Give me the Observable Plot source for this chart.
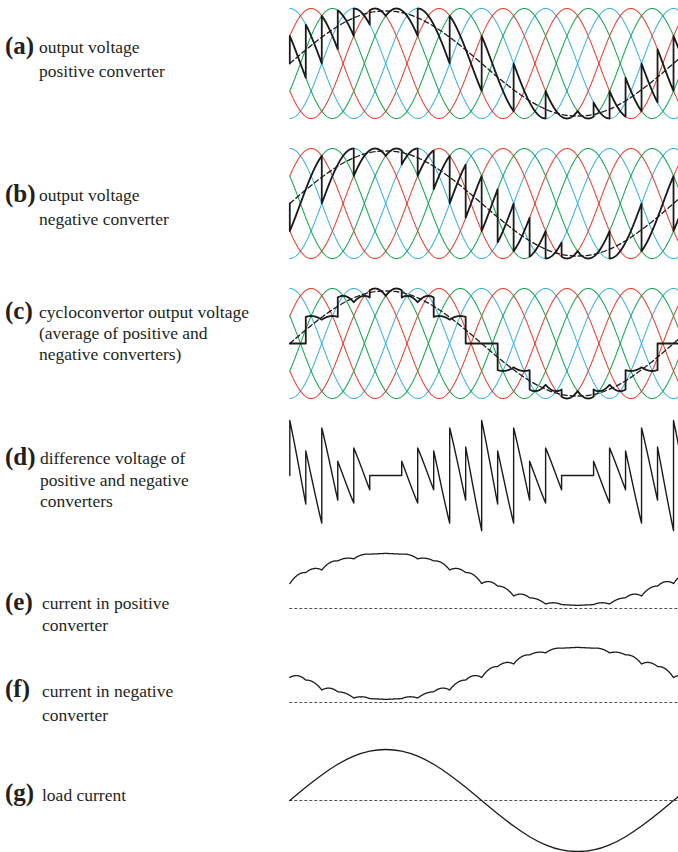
<!DOCTYPE html>
<html>
<head>
<meta charset="utf-8">
<script src="https://cdn.jsdelivr.net/npm/d3@7"></script>
<script src="https://cdn.jsdelivr.net/npm/@observablehq/plot@0.6"></script>
<style>
  body { margin: 0; background: #fff; }
  #root { position: relative; width: 678px; height: 852px; overflow: hidden; background: #fff; }
  #root svg { position: absolute; left: 0; background: none; }
  #labels text { font-family: "Liberation Serif", "DejaVu Serif", serif; fill: #231f20; }
</style>
</head>
<body>
<div id="root"></div>
<script>
// ---------------- data ----------------
// time axis in supply degrees: 0 .. 1094 across the plotted width
const timeDomain = [0, 1094];

// six supply waves (3 colours, each with its inverse): angle of each peak
const supplyPeaks = [0, 60, 120, 180, 240, 300];
const supplyColors = ["#3db2e4", "#e8412f", "#17a653", "#3db2e4", "#e8412f", "#17a653"];

// positive converter: [switch-on angle, switch-off angle, supply wave followed]
const positiveSegments = [
  [0, 45, 5], [45, 90, 0], [90, 135, 1], [135, 180, 2], [180, 225, 3], [225, 270, 4],
  [270, 360, 5], [360, 450, 0], [450, 540, 1], [540, 630, 2], [630, 720, 3], [720, 810, 4],
  [810, 855, 5], [855, 900, 0], [900, 945, 1], [945, 990, 2], [990, 1035, 3], [1035, 1080, 4],
  [1080, 1094, 5]
];
// negative converter: [switch-on angle, switch-off angle, supply wave followed]
const negativeSegments = [
  [0, 90, 2], [90, 180, 3], [180, 270, 4], [270, 315, 5], [315, 360, 0], [360, 405, 1],
  [405, 450, 2], [450, 495, 3], [495, 540, 4], [540, 585, 5], [585, 630, 0], [630, 675, 1],
  [675, 720, 2], [720, 765, 3], [765, 810, 4], [810, 900, 5], [900, 990, 0], [990, 1080, 1],
  [1080, 1094, 2]
];

// load current read every 45 supply degrees (0 .. 1125), peak = 1
const loadStep = 45;
const loadCurrent = [0, 0.26, 0.5, 0.71, 0.87, 0.97, 1, 0.97, 0.87, 0.71, 0.5, 0.26,
  0, -0.26, -0.5, -0.71, -0.87, -0.97, -1, -0.97, -0.87, -0.71, -0.5, -0.26, 0, 0.26];

// dashed mean output voltage relative to supply peak
const meanVoltageRatio = 0.955;
// converter currents: standing circulating level, share of load, ripple gain
const circulatingLevel = 0.48;
const loadShare = 0.5;
const rippleGain = 0.4;

// labels
const labelTags = ["(a)", "(b)", "(c)", "(d)", "(e)", "(f)", "(g)"];
const labelLines = [
  ["output voltage", "positive converter"],
  ["output voltage", "negative converter"],
  ["cycloconvertor output voltage", "(average of positive and", "negative converters)"],
  ["difference voltage of", "positive and negative", "converters"],
  ["current in positive", "converter"],
  ["current in negative", "converter"],
  ["load current"]
];

// ---------------- layout (positions / styles) ----------------
const labelLayout = [
  {tagY: 54, textX: 39, ys: [53, 77]},
  {tagY: 202, textX: 39, ys: [201, 225]},
  {tagY: 319, textX: 39, ys: [318, 339, 360]},
  {tagY: 465, textX: 40, ys: [464, 486, 507]},
  {tagY: 610, textX: 42, ys: [609, 631]},
  {tagY: 697, textX: 42, ys: [697, 721]},
  {tagY: 801, textX: 42, ys: [801]}
];

// ---------------- derived tables ----------------
const rad = Math.PI / 180;
const supply = (k, t) => Math.cos((t - supplyPeaks[k]) * rad);

const supplyCurves = supplyPeaks.map((_, k) =>
  d3.range(timeDomain[0], timeDomain[1] + 1, 1).map(t => ({t, v: supply(k, t)})));

function waveform(segs) {
  const pts = [{t: 0, v: 0}];
  for (const [a, b, k] of segs) for (let t = a; t <= b; t++) pts.push({t, v: supply(k, t)});
  return pts;
}
const positiveWave = waveform(positiveSegments);
const negativeWave = waveform(negativeSegments);

const breaks = Array.from(new Set([...positiveSegments, ...negativeSegments].flatMap(s => [s[0], s[1]])))
  .sort((a, b) => a - b);
const combo = [{t: 0, vP: 0, vN: 0}];
for (let i = 0; i < breaks.length - 1; i++) {
  const a = breaks[i], b = breaks[i + 1];
  const sp = positiveSegments.find(s => s[0] <= a && s[1] >= b);
  const sn = negativeSegments.find(s => s[0] <= a && s[1] >= b);
  for (let t = a; t <= b; t++) combo.push({t, vP: supply(sp[2], t), vN: supply(sn[2], t)});
}

const loadSamples = loadCurrent.map((v, i) => ({t: i * loadStep, v}));
const meanVoltage = loadSamples.map(d => ({t: d.t, v: d.v * meanVoltageRatio}));
const loadAt = t => {
  const i = Math.min(Math.floor(t / loadStep), loadCurrent.length - 2);
  const f = t / loadStep - i;
  return loadCurrent[i] * (1 - f) + loadCurrent[i + 1] * f;
};

let ic = 0;
const currents = combo.map((p, i) => {
  if (i > 0) {
    const q = combo[i - 1];
    ic += rippleGain * 0.5 * ((p.vP - p.vN) + (q.vP - q.vN)) * (p.t - q.t) * rad;
  }
  const L = loadAt(p.t);
  let iP = circulatingLevel + loadShare * L + ic;
  let iN = circulatingLevel - loadShare * L + ic;
  const m = Math.min(iP, iN);
  if (m < 0) { ic -= m; iP -= m; iN -= m; }
  return {t: p.t, iP, iN};
});

// ---------------- drawing ----------------
const root = document.getElementById("root");
const INK = "#1b1b1b";

function panel(top, height, yScale, marks) {
  const svg = Plot.plot({
    width: 678, height,
    marginLeft: 289.3, marginRight: 0, marginTop: 0, marginBottom: 0,
    x: {domain: timeDomain, axis: null},
    y: {...yScale, axis: null},
    marks
  });
  svg.style.top = top + "px";
  root.append(svg);
}

const supplyMarks = () => supplyCurves.map((c, k) =>
  Plot.line(c, {x: "t", y: "v", stroke: supplyColors[k], strokeWidth: 1.05}));
const dashedMean = () => Plot.line(meanVoltage, {x: "t", y: "v", curve: "natural",
  stroke: INK, strokeWidth: 1.3, strokeDasharray: "5,3"});
const voltY = {domain: [-1, 1], range: [118, 8]};

// (a)
panel(0, 126, voltY, [
  ...supplyMarks(),
  dashedMean(),
  Plot.line(positiveWave, {x: "t", y: "v", stroke: INK, strokeWidth: 1.8})
]);
// (b)
panel(140, 126, voltY, [
  ...supplyMarks(),
  dashedMean(),
  Plot.line(negativeWave, {x: "t", y: "v", stroke: INK, strokeWidth: 1.8})
]);
// (c)
panel(280, 126, voltY, [
  ...supplyMarks(),
  Plot.line(combo, {x: "t", y: d => (d.vP + d.vN) / 2, stroke: INK, strokeWidth: 1.8}),
  dashedMean()
]);
// (d)
panel(412, 126, voltY, [
  Plot.line(combo, {x: "t", y: d => d.vP - d.vN, stroke: INK, strokeWidth: 1.4})
]);
// (e)
panel(540, 72, {domain: [0, 1], range: [68, 16]}, [
  Plot.ruleY([0], {stroke: "#555", strokeWidth: 1, strokeDasharray: "3,2"}),
  Plot.line(currents, {x: "t", y: "iP", stroke: INK, strokeWidth: 1.3})
]);
// (f)
panel(634, 72, {domain: [0, 1], range: [68, 16]}, [
  Plot.ruleY([0], {stroke: "#555", strokeWidth: 1, strokeDasharray: "3,2"}),
  Plot.line(currents, {x: "t", y: "iN", stroke: INK, strokeWidth: 1.3})
]);
// (g)
panel(732, 120, {domain: [-1, 1], range: [119, 17]}, [
  Plot.ruleY([0], {stroke: "#555", strokeWidth: 1, strokeDasharray: "3,2"}),
  Plot.line(loadSamples, {x: "t", y: "v", curve: "natural", stroke: INK, strokeWidth: 1.3})
]);

// labels (real text) on an overlay
const NS = "http://www.w3.org/2000/svg";
const lab = document.createElementNS(NS, "svg");
lab.setAttribute("id", "labels");
lab.setAttribute("width", 285); lab.setAttribute("height", 852);
lab.style.top = "0px";
labelTags.forEach((tag, i) => {
  const L = labelLayout[i];
  const t = document.createElementNS(NS, "text");
  t.setAttribute("x", 5); t.setAttribute("y", L.tagY);
  t.setAttribute("font-family", "Liberation Serif, DejaVu Serif, serif");
  t.setAttribute("font-size", 25); t.setAttribute("font-weight", "bold");
  t.textContent = tag; lab.append(t);
  labelLines[i].forEach((line, j) => {
    const s = document.createElementNS(NS, "text");
    s.setAttribute("x", L.textX); s.setAttribute("y", L.ys[j]);
    s.setAttribute("font-family", "Liberation Serif, DejaVu Serif, serif");
    s.setAttribute("font-size", 17.5);
    s.textContent = line; lab.append(s);
  });
});
root.append(lab);
</script>
</body>
</html>
